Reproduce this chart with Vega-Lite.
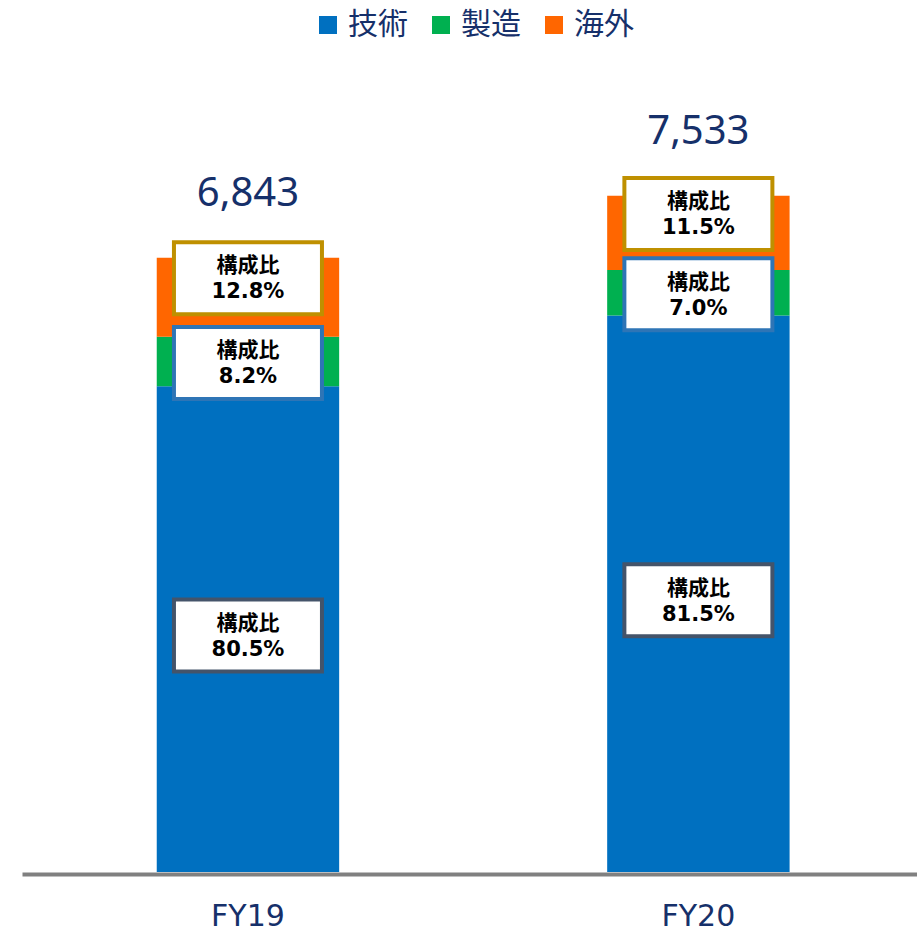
{
  "$schema": "https://vega.github.io/schema/vega-lite/v6.json",
  "width": 895,
  "height": 808,
  "autosize": {"type": "none"},
  "padding": {"left": 22, "top": 64, "right": 0, "bottom": 61},
  "background": "white",
  "config": {"view": {"stroke": null}},
  "data": {
    "values": [
      {"year": "FY19", "cat": "技術", "ord": 1, "value": 5411, "share": "80.5%"},
      {"year": "FY19", "cat": "製造", "ord": 2, "value": 551, "share": "8.2%"},
      {"year": "FY19", "cat": "海外", "ord": 3, "value": 881, "share": "12.8%"},
      {"year": "FY20", "cat": "技術", "ord": 1, "value": 6200, "share": "81.5%"},
      {"year": "FY20", "cat": "製造", "ord": 2, "value": 505, "share": "7.0%"},
      {"year": "FY20", "cat": "海外", "ord": 3, "value": 828, "share": "11.5%"}
    ]
  },
  "transform": [
    {"stack": "value", "groupby": ["year"], "sort": [{"field": "ord", "order": "ascending"}], "as": ["y0", "y1"]},
    {"calculate": "(datum.y0 + datum.y1) / 2", "as": "ymid"},
    {"calculate": "'構成比\\n' + datum.share", "as": "label"}
  ],
  "encoding": {
    "x": {
      "field": "year",
      "type": "nominal",
      "sort": ["FY19", "FY20"],
      "scale": {"paddingInner": 0.595, "paddingOuter": 0.291, "align": 0.514},
      "axis": {
        "title": null,
        "labelAngle": 0,
        "domainColor": "#808080",
        "domainWidth": 4,
        "ticks": false,
        "tickSize": 0,
        "offset": 2,
        "labelPadding": 27,
        "labelFont": "DejaVu Sans",
        "labelFontSize": 30,
        "labelColor": "#16306A"
      }
    }
  },
  "layer": [
    {
      "mark": {"type": "bar"},
      "encoding": {
        "y": {"field": "y1", "type": "quantitative", "scale": {"domain": [0, 9000]}, "axis": null},
        "y2": {"field": "y0"},
        "color": {
          "field": "cat",
          "type": "nominal",
          "scale": {"domain": ["技術", "製造", "海外"], "range": ["#0070C0", "#00B050", "#FF6600"]},
          "legend": {
            "title": null,
            "orient": "none",
            "legendX": 291,
            "legendY": -54,
            "direction": "horizontal",
            "symbolType": "square",
            "symbolSize": 324,
            "symbolStrokeWidth": 0,
            "symbolOpacity": 1,
            "labelFont": "Noto Sans CJK JP",
            "labelFontSize": 30,
            "labelColor": "#16306A",
            "labelOffset": 5,
            "columnPadding": 18,
            "padding": 0
          }
        }
      }
    },
    {
      "transform": [{"filter": "datum.cat === '技術'"}],
      "mark": {"type": "point", "shape": "M-1,-0.399H1V0.574H-1Z", "filled": true, "fill": "white", "stroke": "#44546A", "strokeWidth": 4, "size": 21904, "opacity": 1, "fillOpacity": 1, "strokeOpacity": 1},
      "encoding": {"y": {"field": "ymid", "type": "quantitative"}}
    },
    {
      "transform": [{"filter": "datum.cat === '製造'"}],
      "mark": {"type": "point", "shape": "M-1,-0.466H1V0.507H-1Z", "filled": true, "fill": "white", "stroke": "#2E75B6", "strokeWidth": 4, "size": 21904, "opacity": 1, "fillOpacity": 1, "strokeOpacity": 1},
      "encoding": {"y": {"field": "ymid", "type": "quantitative"}}
    },
    {
      "transform": [{"filter": "datum.cat === '海外'"}],
      "mark": {"type": "point", "shape": "M-1,-0.743H1V0.230H-1Z", "filled": true, "fill": "white", "stroke": "#BF9000", "strokeWidth": 4, "size": 21904, "opacity": 1, "fillOpacity": 1, "strokeOpacity": 1},
      "encoding": {"y": {"field": "ymid", "type": "quantitative"}}
    },
    {
      "transform": [{"filter": "datum.cat === '技術'"}],
      "mark": {"type": "text", "lineBreak": "\n", "font": "DejaVu Sans, Noto Sans CJK JP", "fontWeight": "bold", "fontSize": 21, "lineHeight": 26, "baseline": "middle", "align": "center", "color": "#000000", "dy": -5},
      "encoding": {"y": {"field": "ymid", "type": "quantitative"}, "text": {"field": "label"}}
    },
    {
      "transform": [{"filter": "datum.cat === '製造'"}],
      "mark": {"type": "text", "lineBreak": "\n", "font": "DejaVu Sans, Noto Sans CJK JP", "fontWeight": "bold", "fontSize": 21, "lineHeight": 26, "baseline": "middle", "align": "center", "color": "#000000", "dy": -10},
      "encoding": {"y": {"field": "ymid", "type": "quantitative"}, "text": {"field": "label"}}
    },
    {
      "transform": [{"filter": "datum.cat === '海外'"}],
      "mark": {"type": "text", "lineBreak": "\n", "font": "DejaVu Sans, Noto Sans CJK JP", "fontWeight": "bold", "fontSize": 21, "lineHeight": 26, "baseline": "middle", "align": "center", "color": "#000000", "dy": -31},
      "encoding": {"y": {"field": "ymid", "type": "quantitative"}, "text": {"field": "label"}}
    },
    {
      "transform": [
        {"aggregate": [{"op": "sum", "field": "value", "as": "total"}], "groupby": ["year"]}
      ],
      "mark": {"type": "text", "font": "Noto Sans", "fontSize": 40, "color": "#16306A", "baseline": "alphabetic", "align": "center", "dy": -52},
      "encoding": {
        "y": {"field": "total", "type": "quantitative"},
        "text": {"field": "total", "type": "quantitative", "format": ","}
      }
    }
  ]
}
